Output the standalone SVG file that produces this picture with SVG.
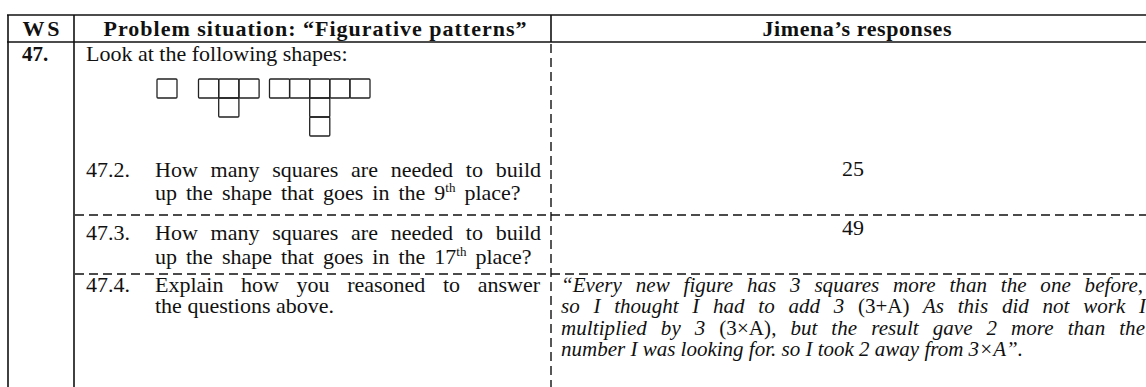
<svg xmlns="http://www.w3.org/2000/svg" width="1146" height="387" viewBox="0 0 1146 387">
<style>
.t{font-family:"Liberation Serif","Times New Roman",serif;font-size:22px;fill:#111}
.b{font-weight:bold}
.r{font-size:21px;font-style:italic}
.n{font-style:normal}
.sup{font-size:13px}
.solid{stroke:#111;stroke-width:1.6;fill:none}
.dash{stroke:#111;stroke-width:1.4;fill:none;stroke-dasharray:9 5}
.sq{stroke:#222;stroke-width:1.3;fill:none}
</style>
<rect width="1146" height="387" fill="#fff"/>
<g id="grid">
<line class="solid" x1="7" y1="15" x2="1146" y2="15"/>
<line class="solid" x1="7" y1="42" x2="1146" y2="42"/>
<line class="solid" x1="8" y1="15" x2="8" y2="387"/>
<line class="solid" x1="74" y1="15" x2="74" y2="387"/>
<line class="solid" x1="551" y1="15" x2="551" y2="42"/>
<line class="dash" x1="551" y1="44" x2="551" y2="387"/>
<line class="dash" x1="75" y1="215" x2="1146" y2="215"/>
<line class="dash" x1="75" y1="274" x2="1146" y2="274"/>
</g>
<g id="header">
<text class="t b" x="41" y="36" text-anchor="middle" textLength="37" lengthAdjust="spacing">WS</text>
<text class="t b" x="315" y="36" text-anchor="middle" textLength="423" lengthAdjust="spacing">Problem situation: “Figurative patterns”</text>
<text class="t b" x="857" y="36" text-anchor="middle" textLength="189" lengthAdjust="spacing">Jimena’s responses</text>
</g>
<g id="row-47">
<text class="t b" x="22" y="61" style="font-size:21px">47.</text>
<text class="t" x="86" y="61">Look at the following shapes:</text>
<g id="shapes">
<rect class="sq" x="157" y="79" width="20" height="19" rx="1"/>
<rect class="sq" x="198.5" y="79" width="20.2" height="19" rx="1"/>
<rect class="sq" x="218.7" y="79" width="20.2" height="19" rx="1"/>
<rect class="sq" x="238.9" y="79" width="20.2" height="19" rx="1"/>
<rect class="sq" x="218.7" y="98" width="20.2" height="19" rx="1"/>
<rect class="sq" x="269.5" y="79" width="20.1" height="19" rx="1"/>
<rect class="sq" x="289.6" y="79" width="20.1" height="19" rx="1"/>
<rect class="sq" x="309.7" y="79" width="20.1" height="19" rx="1"/>
<rect class="sq" x="329.8" y="79" width="20.1" height="19" rx="1"/>
<rect class="sq" x="349.9" y="79" width="20.1" height="19" rx="1"/>
<rect class="sq" x="309.7" y="98" width="20.1" height="19" rx="1"/>
<rect class="sq" x="309.7" y="117" width="20.1" height="19" rx="1"/>
</g>
</g>
<g id="row-47-2">
<text class="t" x="86" y="177">47.2.</text>
<text class="t" x="155" y="177" word-spacing="7.3" textLength="386" lengthAdjust="spacing">How many squares are needed to build</text>
<text class="t" x="155" y="200" word-spacing="3.5">up the shape that goes in the 9<tspan class="sup" dy="-8">th</tspan><tspan dy="8"> place?</tspan></text>
<text class="t" x="853" y="176" text-anchor="middle">25</text>
</g>
<g id="row-47-3">
<text class="t" x="86" y="240">47.3.</text>
<text class="t" x="155" y="240" word-spacing="7.3" textLength="386" lengthAdjust="spacing">How many squares are needed to build</text>
<text class="t" x="155" y="264" word-spacing="3.5">up the shape that goes in the 17<tspan class="sup" dy="-8">th</tspan><tspan dy="8"> place?</tspan></text>
<text class="t" x="853" y="235" text-anchor="middle">49</text>
</g>
<g id="row-47-4">
<text class="t" x="86" y="292">47.4.</text>
<text class="t" x="155" y="292" word-spacing="12.1" textLength="385" lengthAdjust="spacing">Explain how you reasoned to answer</text>
<text class="t" x="155" y="313">the questions above.</text>
<text class="t r" x="561" y="292" word-spacing="8.5" textLength="582" lengthAdjust="spacing">“Every new figure has 3 squares more than the one before,</text>
<text class="t r" x="561" y="313" word-spacing="8.4" textLength="585" lengthAdjust="spacing">so I thought I had to add 3 <tspan class="n">(3+A)</tspan> As this did not work I</text>
<text class="t r" x="561" y="335" word-spacing="8.6" textLength="584" lengthAdjust="spacing">multiplied by 3 <tspan class="n">(3×A),</tspan> but the result gave 2 more than the</text>
<text class="t r" x="561" y="356">number I was looking for. so I took 2 away from 3×A”.</text>
</g>
</svg>
